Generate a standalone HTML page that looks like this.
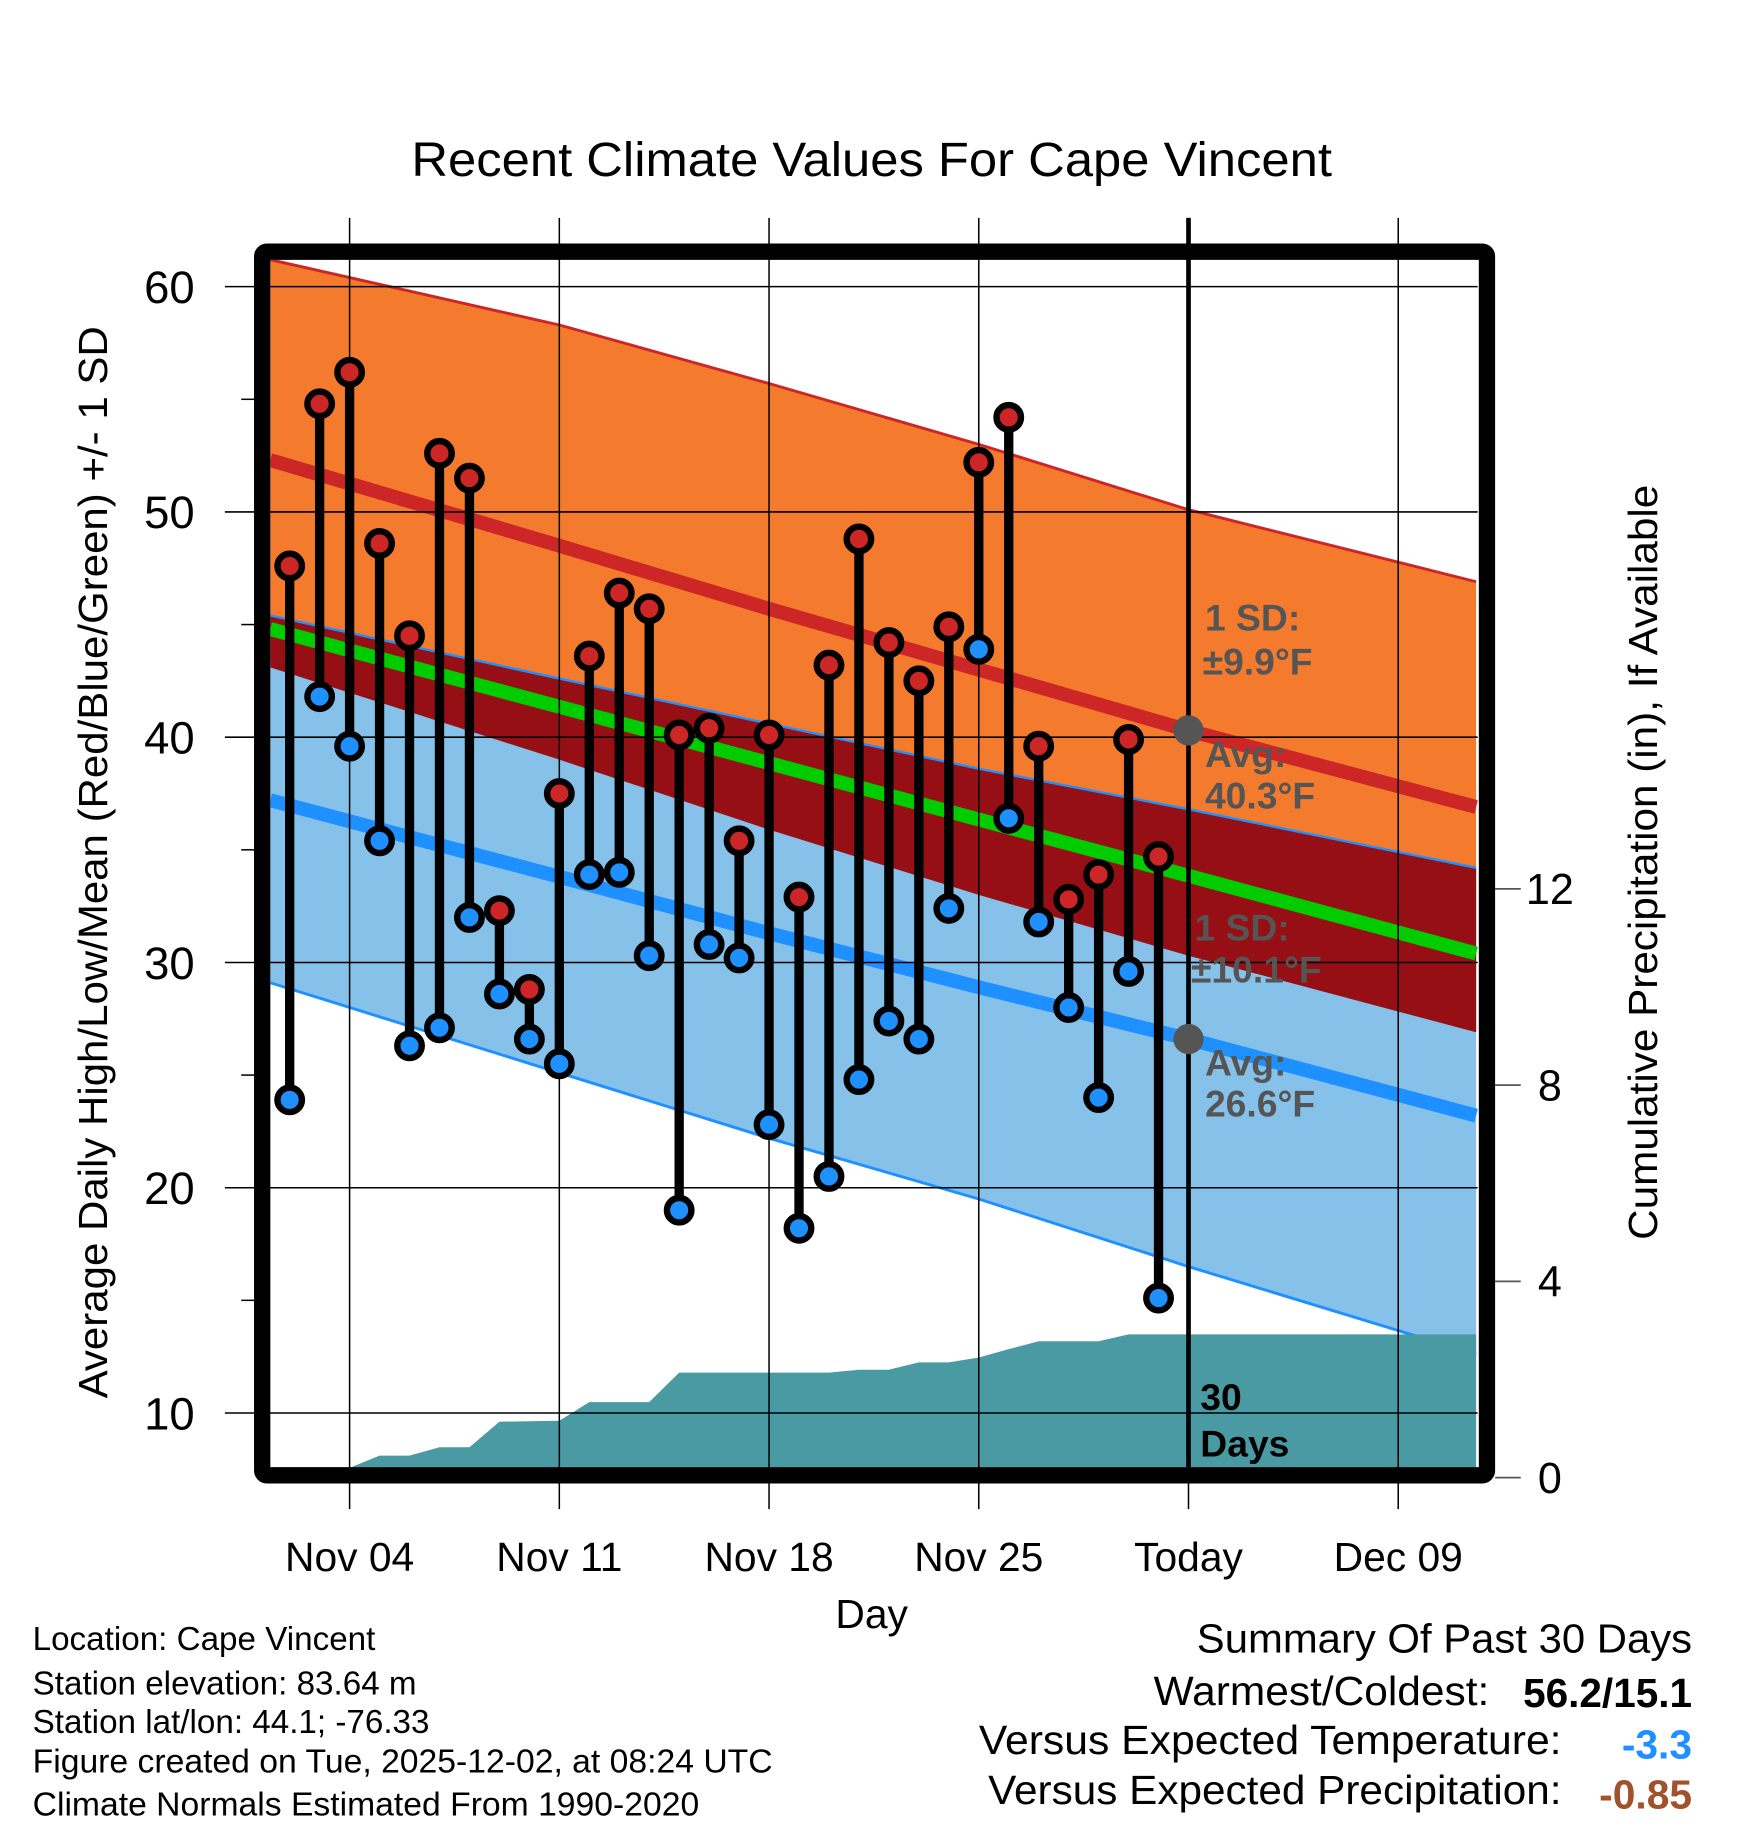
<!DOCTYPE html>
<html><head><meta charset="utf-8"><style>
html,body{margin:0;padding:0;background:#fff}
svg{display:block}
text{font-family:"Liberation Sans",Arial,sans-serif}
</style></head><body>
<svg id="chart" width="1748" height="1828" viewBox="0 0 1500 1568.65" xmlns="http://www.w3.org/2000/svg">
<rect width="1500" height="1568.65" fill="#fff"/>
<text x="748" y="151" font-size="41" text-anchor="middle" textLength="790" lengthAdjust="spacingAndGlyphs">Recent Climate Values For Cape Vincent</text>
<g id="plot"></g>
<text x="748" y="1397" font-size="35" text-anchor="middle">Day</text>
<text transform="translate(92,740) rotate(-90)" font-size="35" text-anchor="middle" textLength="920" lengthAdjust="spacingAndGlyphs">Average Daily High/Low/Mean (Red/Blue/Green) +/- 1 SD</text>
<text transform="translate(1422,740) rotate(-90)" font-size="35" text-anchor="middle" textLength="648" lengthAdjust="spacingAndGlyphs">Cumulative Precipitation (in), If Available</text>
<g font-size="28.5">
<text x="28" y="1416">Location: Cape Vincent</text>
<text x="28" y="1454">Station elevation: 83.64 m</text>
<text x="28" y="1487">Station lat/lon: 44.1; -76.33</text>
<text x="28" y="1521" textLength="635" lengthAdjust="spacingAndGlyphs">Figure created on Tue, 2025-12-02, at 08:24 UTC</text>
<text x="28" y="1558" textLength="572" lengthAdjust="spacingAndGlyphs">Climate Normals Estimated From 1990-2020</text>
</g>
<g font-size="35">
<text x="1452" y="1418" text-anchor="end" textLength="425" lengthAdjust="spacingAndGlyphs">Summary Of Past 30 Days</text>
<text x="1278" y="1463" text-anchor="end" textLength="288" lengthAdjust="spacingAndGlyphs">Warmest/Coldest:</text>
<text x="1452" y="1465" text-anchor="end" font-weight="bold" textLength="145" lengthAdjust="spacingAndGlyphs">56.2/15.1</text>
<text x="1340" y="1505" text-anchor="end" textLength="500" lengthAdjust="spacingAndGlyphs">Versus Expected Temperature:</text>
<text x="1452" y="1509" text-anchor="end" font-weight="bold" fill="#1e90ff">-3.3</text>
<text x="1340" y="1548" text-anchor="end" textLength="492" lengthAdjust="spacingAndGlyphs">Versus Expected Precipitation:</text>
<text x="1452" y="1552" text-anchor="end" font-weight="bold" fill="#a0522d">-0.85</text>
</g>
</svg>
<script>
const days = [2,3,4,5,6,7,8,9,10,11,12,13,14,15,16,17,18,19,20,21,22,23,24,25,26,27,28,29,30,31];
const highs = [47.6,54.8,56.2,48.6,44.5,52.6,51.5,32.3,28.8,37.5,43.6,46.4,45.7,40.1,40.4,35.4,40.1,32.9,43.2,48.8,44.2,42.5,44.9,52.2,54.2,39.6,32.8,33.9,39.9,34.7];
const lows = [23.9,41.8,39.6,35.4,26.3,27.1,32.0,28.6,26.6,25.5,33.9,34.0,30.3,19.0,30.8,30.2,22.8,18.2,20.5,24.8,27.4,26.6,32.4,43.9,36.4,31.8,28.0,24.0,29.6,15.1];
const precipDays = [1,4,5,6,7,8,9,10,11,12,13,14,15,20,21,22,23,24,25,26,27,29,30,31,41.6];
const precipCum = [0.2,0.2,0.45,0.45,0.62,0.62,1.14,1.15,1.16,1.54,1.54,1.54,2.14,2.14,2.2,2.2,2.35,2.35,2.45,2.62,2.78,2.78,2.92,2.92,2.92];
const normDays = [1.35,11,18,25,32,41.6];
const hiUpper = [61.2,58.3,55.7,53.0,50.1,46.9];
const hiMean = [52.3,48.5,45.7,43.0,40.3,36.9];
const hiLower = [43.1,39.0,35.9,33.0,30.3,26.9];
const loUpper = [45.4,42.6,40.6,38.6,36.8,34.2];
const meanAvg = [44.8,41.35,38.85,36.35,33.85,30.4];
const loMean = [37.2,33.8,31.3,28.9,26.6,23.2];
const loLower = [29.1,25.1,22.2,19.5,16.5,12.6];
const yTicks = [10,20,30,40,50,60];
const y2Ticks = [0,4,8,12];
const xTickDays = [4,11,18,25,32,39];
const xTickLabels = ['Nov 04','Nov 11','Nov 18','Nov 25','Today','Dec 09'];

const NS='http://www.w3.org/2000/svg';
const X0=232,X1=1268,Y0=223,Y1=1259;
const xS=d=>300+(d-4)*25.71;
const yS=v=>246+(60-v)*19.33;
const pS=p=>1268-p*42.1;
const g=document.getElementById('plot');
function mk(tag,attrs,parent){const e=document.createElementNS(NS,tag);for(const k in attrs)e.setAttribute(k,attrs[k]);(parent||g).appendChild(e);return e;}
function pts(ds,vs){return ds.map((d,i)=>xS(d).toFixed(1)+','+yS(vs[i]).toFixed(1));}
function band(a,b){return pts(normDays,a).concat(pts(normDays,b).reverse()).join(' ');}

const defs=mk('defs',{});
const cp=mk('clipPath',{id:'clip'},defs);
mk('rect',{x:X0,y:Y0,width:X1-X0,height:Y1-Y0},cp);
const inner=mk('g',{'clip-path':'url(#clip)'});

let e;
e=mk('polygon',{points:band(hiUpper,hiLower),fill:'#f47a2e'},inner);


e=mk('polygon',{points:band(loUpper,loLower),fill:'#85c1e9'},inner);


e=mk('polygon',{points:band(loUpper,hiLower),fill:'#960f14'},inner);


function line(vs,color,w,name){const l=mk('polyline',{points:pts(normDays,vs).join(' '),fill:'none',stroke:color,'stroke-width':w},inner);

}
line(hiUpper,'#cd2626',2.5,'high-upper-sd-line');
line(loUpper,'#1e90ff',2,'low-upper-sd-line');
line(loLower,'#1e90ff',2.5,'low-lower-sd-line');
line(meanAvg,'#00cc00',12,'mean-normal-line');
line(hiMean,'#cd2626',12,'high-normal-line');
line(loMean,'#1e90ff',12,'low-normal-line');

let pp=[xS(precipDays[0])+','+pS(-0.5)];
precipDays.forEach((d,i)=>pp.push(xS(d)+','+pS(precipCum[i])));
pp.push(xS(precipDays[precipDays.length-1])+','+pS(-0.5));
e=mk('polygon',{points:pp.join(' '),fill:'#4a9aa3'},inner);



yTicks.forEach(v=>{const l=mk('line',{x1:193,x2:X1,y1:yS(v),y2:yS(v),stroke:'#000','stroke-width':1.3});


const t=mk('text',{x:167,y:yS(v)+14,'font-size':39,'text-anchor':'end'});t.textContent=v;

});
for(let v=15;v<60;v+=10){const l=mk('line',{x1:207,x2:218,y1:yS(v),y2:yS(v),stroke:'#000','stroke-width':1.3});

}
xTickDays.forEach((d,i)=>{const l=mk('line',{x1:xS(d),x2:xS(d),y1:187,y2:1295,stroke:'#000','stroke-width':1.3});


const t=mk('text',{x:xS(d),y:1348,'font-size':35,'text-anchor':'middle'});t.textContent=xTickLabels[i];

});
y2Ticks.forEach(p=>{const l=mk('line',{x1:1283,x2:1305,y1:pS(p),y2:pS(p),stroke:'#555','stroke-width':1.5});


const t=mk('text',{x:1330,y:pS(p)+13,'font-size':37,'text-anchor':'middle'});t.textContent=p;

});

e=mk('line',{x1:xS(32),x2:xS(32),y1:187,y2:Y1,stroke:'#000','stroke-width':4});



const ann=[['1 SD:',1034,541,'#555'],['±9.9°F',1032,579,'#555'],['Avg:',1034,658,'#555'],['40.3°F',1034,694,'#555'],['1 SD:',1025,807,'#555'],['±10.1°F',1022,843,'#555'],['Avg:',1034,923,'#555'],['26.6°F',1034,958,'#555'],['30',1030,1210,'#000'],['Days',1030,1250,'#000']];
ann.forEach(a=>{const t=mk('text',{x:a[1],y:a[2],'font-size':32,'font-weight':'bold',fill:a[3]});t.textContent=a[0];

});
[[32,40.3],[32,26.6]].forEach(a=>{const c=mk('circle',{cx:xS(a[0]),cy:yS(a[1]),r:13,fill:'#555'});

});

e=mk('rect',{x:225,y:216,width:1051,height:1050,fill:'none',stroke:'#000','stroke-width':14,rx:4});



days.forEach((d,i)=>{const x=xS(d);
const s=mk('line',{x1:x,x2:x,y1:yS(highs[i]),y2:yS(lows[i]),stroke:'#000','stroke-width':8});


[[highs[i],'#cd2626','high-point'],[lows[i],'#1e90ff','low-point']].forEach(p=>{
const o=mk('circle',{cx:x,cy:yS(p[0]),r:10.5,fill:p[1],stroke:'#000','stroke-width':5.5});

});});
</script>
</body></html>
